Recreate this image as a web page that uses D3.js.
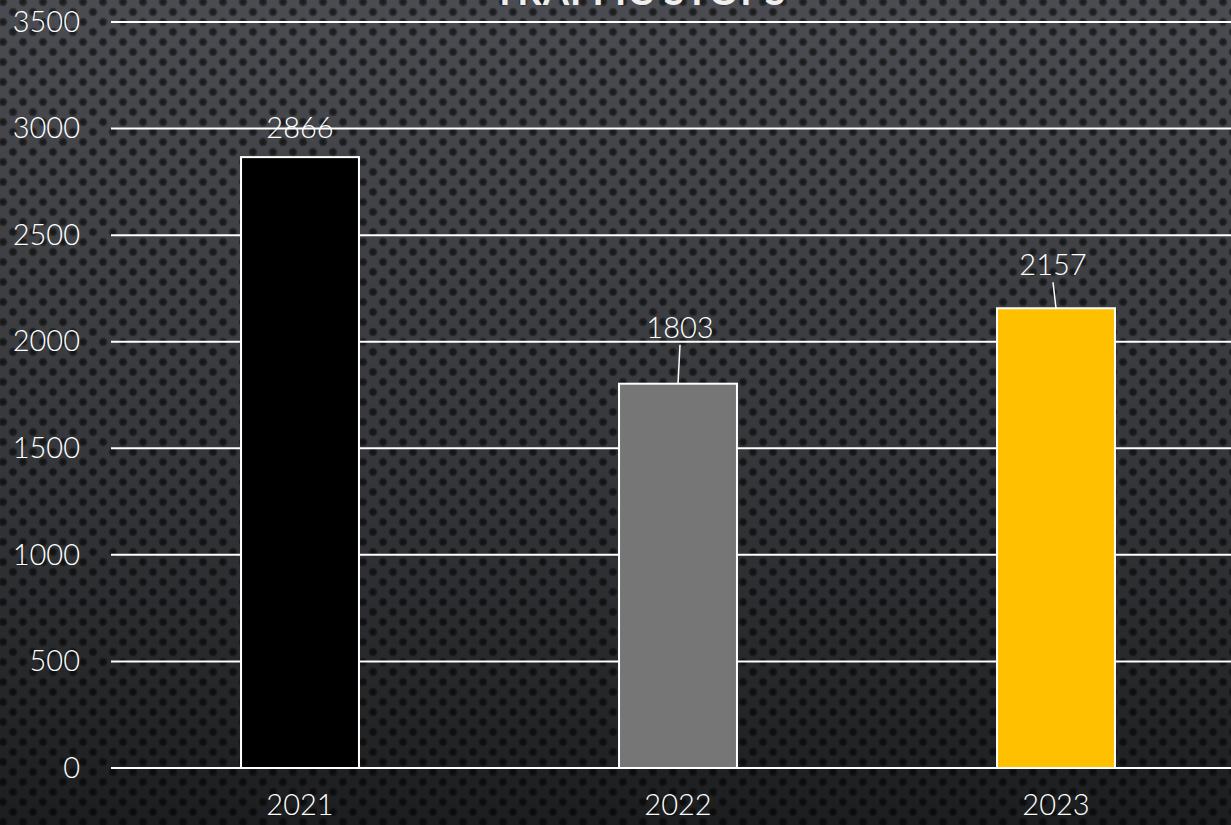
<!DOCTYPE html>
<html><head><meta charset="utf-8">
<script src="https://cdn.jsdelivr.net/npm/d3@7"></script>
<style>html,body{margin:0;padding:0;background:#2e3033;overflow:hidden}</style>
</head><body>
<svg id="chart" width="1231" height="825"></svg>
<script>
const categories = ["2021", "2022", "2023"];
const values = [2866, 1803, 2157];
const barColors = ["#000000", "#767676", "#FFC000"];
const yTicks = [0, 500, 1000, 1500, 2000, 2500, 3000, 3500];
const title = "TRAFFIC STOPS";

(function () {
const W = 1231, H = 825;
const svg = d3.select("#chart");
const defs = svg.append("defs");
const bg = defs.append("linearGradient").attr("id","bg").attr("x1",0).attr("y1",0).attr("x2",0).attr("y2",1);
bg.append("stop").attr("offset","0%").attr("stop-color","#4a4c51");
bg.append("stop").attr("offset","55%").attr("stop-color","#35373a");
bg.append("stop").attr("offset","100%").attr("stop-color","#1c1d1f");
const pat = defs.append("pattern").attr("id","dots").attr("width",20).attr("height",20).attr("patternUnits","userSpaceOnUse").attr("x",3).attr("y",2);
const rg = defs.append("radialGradient").attr("id","dot");
rg.append("stop").attr("offset","0%").attr("stop-color","#000").attr("stop-opacity",0.7);
rg.append("stop").attr("offset","60%").attr("stop-color","#000").attr("stop-opacity",0.5);
rg.append("stop").attr("offset","100%").attr("stop-color","#000").attr("stop-opacity",0);
[[0,0],[10,10],[20,0],[0,20],[20,20]].forEach(([cx,cy]) =>
  pat.append("circle").attr("cx",cx).attr("cy",cy).attr("r",5).attr("fill","url(#dot)"));
svg.append("rect").attr("width",W).attr("height",H).attr("fill","url(#bg)");
svg.append("rect").attr("width",W).attr("height",H).attr("fill","url(#dots)");

const font = "'Century Gothic', Lato, 'Open Sans', sans-serif";
const pl = 111, pr = 1245, pt = 22, pb = 768;
const x = d3.scaleBand().domain(categories).range([pl, pr]).paddingInner(0.688).paddingOuter(0.344);
const y = d3.scaleLinear().domain([0, 3500]).range([pb, pt]);

// gridlines
svg.append("g").selectAll("line").data(yTicks).join("line")
  .attr("x1", pl).attr("x2", pr)
  .attr("y1", d => y(d)).attr("y2", d => y(d))
  .attr("stroke", "#ffffff").attr("stroke-width", 2);

// y axis labels
const yAxis = d3.axisLeft(y).tickValues(yTicks).tickSize(0).tickPadding(0).tickFormat(d3.format("d"));
const gy = svg.append("g").attr("transform", `translate(${80},0)`).call(yAxis);
gy.select(".domain").remove();
gy.selectAll("text").attr("font-family", font).attr("font-weight", 300).attr("font-size", 29).attr("fill", "#ffffff");

// x axis labels
const xAxis = d3.axisBottom(x).tickSize(0).tickPadding(0);
const gx = svg.append("g").attr("transform", `translate(0,${794})`).call(xAxis);
gx.select(".domain").remove();
gx.selectAll("text").attr("font-family", font).attr("font-weight", 300).attr("font-size", 29).attr("fill", "#ffffff");

// bars
svg.append("g").selectAll("rect").data(values).join("rect")
  .attr("x", (d,i) => x(categories[i]))
  .attr("y", d => y(d))
  .attr("width", x.bandwidth())
  .attr("height", d => y(0) - y(d))
  .attr("fill", (d,i) => barColors[i])
  .attr("stroke", "#ffffff").attr("stroke-width", 2);

// data labels with leader lines
const labelOffsets = [[0, 29], [2, 56], [-3, 43]];
const lg = svg.append("g");
values.forEach((v, i) => {
  const cx = x(categories[i]) + x.bandwidth() / 2;
  const [dx, dy] = labelOffsets[i];
  const ly = y(v) - dy;
  lg.append("text").attr("x", cx + dx).attr("y", ly).attr("dy", "0.35em")
    .attr("text-anchor", "middle").attr("font-family", font).attr("font-weight", 300).attr("font-size", 29)
    .attr("fill", "#ffffff").text(d3.format("d")(v));
  if (dy > 35) {
    lg.append("line").attr("x1", cx + dx).attr("y1", ly + 17).attr("x2", cx).attr("y2", y(v))
      .attr("stroke", "#ffffff").attr("stroke-width", 1.5);
  }
});

// title (mostly cut off at top, as in the reference)
svg.append("text").attr("x", 640).attr("y", 5).attr("text-anchor", "middle")
  .attr("font-family", font).attr("font-weight", "bold").attr("font-size", 38)
  .attr("fill", "#eeeeee").attr("letter-spacing", 1).text(title);
})();
</script>
</body></html>
